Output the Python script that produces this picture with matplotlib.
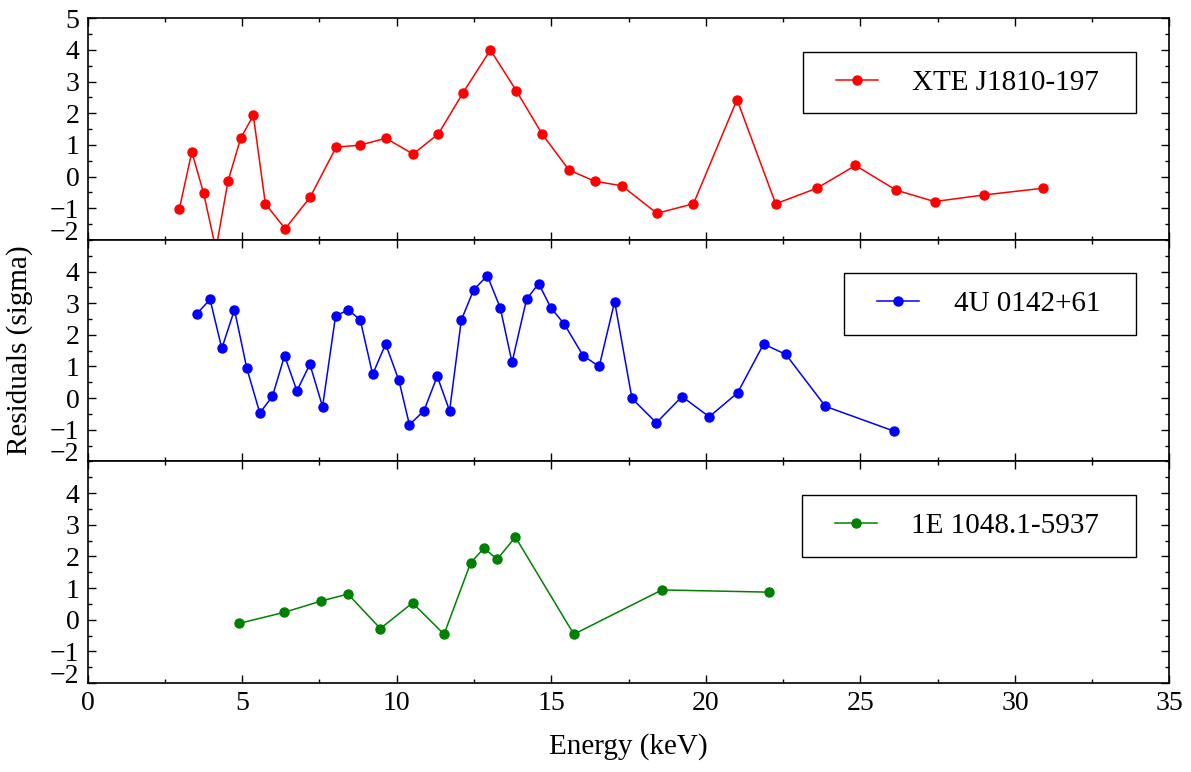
import matplotlib
matplotlib.use("Agg")
import matplotlib.pyplot as plt
from matplotlib.ticker import MultipleLocator
from matplotlib.legend_handler import HandlerLine2D

# Residuals of the spectral fit for three magnetars
xte_name = "XTE J1810-197"
xte_energy = [2.97, 3.37, 3.75, 4.15, 4.54, 4.95, 5.36, 5.75, 6.39, 7.20, 8.04,
              8.80, 9.65, 10.53, 11.35, 12.14, 13.03, 13.87, 14.70, 15.57, 16.41,
              17.28, 18.42, 19.60, 21.01, 22.26, 23.59, 24.84, 26.16, 27.40,
              29.01, 30.90]
xte_resid = [-1.01, 0.78, -0.52, -2.30, -0.15, 1.21, 1.93, -0.86, -1.65, -0.65, 0.93,
             0.99, 1.21, 0.71, 1.35, 2.64, 4.00, 2.71, 1.35, 0.21, -0.15,
             -0.29, -1.16, -0.86, 2.43, -0.86, -0.37, 0.35, -0.43, -0.79,
             -0.58, -0.37]

u0142_name = "4U 0142+61"
u0142_energy = [3.53, 3.96, 4.34, 4.75, 5.15, 5.57, 5.98, 6.37, 6.77, 7.19, 7.60,
                8.02, 8.43, 8.82, 9.22, 9.64, 10.07, 10.41, 10.88, 11.31, 11.71,
                12.09, 12.49, 12.93, 13.35, 13.73, 14.20, 14.59, 14.99, 15.42,
                16.03, 16.55, 17.05, 17.61, 18.40, 19.23, 20.11, 21.03, 21.87,
                22.59, 23.87, 26.08]
u0142_resid = [2.66, 3.12, 1.57, 2.79, 0.94, -0.47, 0.06, 1.34, 0.23, 1.07, -0.27,
               2.59, 2.79, 2.47, 0.75, 1.71, 0.56, -0.84, -0.40, 0.69, -0.40,
               2.47, 3.42, 3.87, 2.85, 1.13, 3.12, 3.62, 2.85, 2.34,
               1.34, 1.00, 3.05, -0.01, -0.78, 0.05, -0.59, 0.17, 1.71,
               1.38, -0.26, -1.04]

e1048_name = "1E 1048.1-5937"
e1048_energy = [4.89, 6.35, 7.56, 8.42, 9.47, 10.51, 11.53, 12.39, 12.82, 13.25,
                13.84, 15.73, 18.58, 22.05]
e1048_resid = [-0.12, 0.23, 0.59, 0.81, -0.28, 0.53, -0.46, 1.79, 2.26, 1.91,
               2.61, -0.46, 0.94, 0.87]

x_ticks = [0, 5, 10, 15, 20, 25, 30, 35]
y_ticks_top = [-2, -1, 0, 1, 2, 3, 4, 5]
y_ticks_lower = [-2, -1, 0, 1, 2, 3, 4]


class InsetLineHandler(HandlerLine2D):
    """Legend line handle that starts a fixed distance into its box."""

    def __init__(self, inset, **kw):
        super().__init__(**kw)
        self.inset = inset

    def create_artists(self, legend, orig_handle, xdescent, ydescent,
                       width, height, fontsize, trans):
        off = self.inset * fontsize
        return super().create_artists(legend, orig_handle, xdescent - off,
                                      ydescent, width - off, height,
                                      fontsize, trans)


plt.rcParams['font.family'] = ['Liberation Serif', 'DejaVu Serif']
plt.rcParams['axes.unicode_minus'] = True

fig, axes = plt.subplots(3, 1, sharex=True, figsize=(11.91, 7.72), dpi=100)
fig.subplots_adjust(left=0.0736, right=0.9819, top=0.9763, bottom=0.1153,
                    hspace=0)

panels = [
    (xte_energy, xte_resid, xte_name, '#ff0000', y_ticks_top, 0.6613, 0.3079, 0.8487),
    (u0142_energy, u0142_resid, u0142_name, '#0000ff', y_ticks_lower, 0.6996, 0.2699, 0.8493),
    (e1048_energy, e1048_resid, e1048_name, '#008000', y_ticks_lower, 0.6600, 0.3088, 0.8464),
]

for ax, (xe, yr, name, color, yt, lx, lw, ltop) in zip(axes, panels):
    line, = ax.plot(xe, yr, '-o', color=color, lw=1.1, ms=6.5,
                    mec=color, label=name)
    ax.set_xlim(0, 35)
    ax.set_ylim(-2, 5)
    ax.set_xticks(x_ticks)
    ax.set_yticks(yt)
    ax.xaxis.set_minor_locator(MultipleLocator(2.5))
    ax.yaxis.set_minor_locator(MultipleLocator(0.5))
    ax.tick_params(which='both', direction='in', top=True, right=True,
                   labelsize=20, width=1.0, pad=6)
    ax.tick_params(which='major', length=6)
    ax.tick_params(which='minor', length=3)
    for sp in ax.spines.values():
        sp.set_linewidth(1.2)
    # lowest label sits on its baseline so it clears the panel below
    ax.yaxis.get_major_ticks()[0].label1.set_verticalalignment('baseline')

    lh = 0.303
    leg = ax.legend(handles=[line], loc='upper left',
                    bbox_to_anchor=(lx, ltop - lh, lw, lh),
                    bbox_transform=ax.transAxes, mode='expand',
                    borderaxespad=0, borderpad=0.6, numpoints=1,
                    handlelength=1.97, handletextpad=1.17,
                    fontsize=21, fancybox=False, framealpha=1,
                    edgecolor='black',
                    handler_map={line: InsetLineHandler(0.53)})
    leg.get_frame().set_linewidth(1.0)

axes[-1].set_xlabel('Energy (keV)', fontsize=21)
axes[-1].xaxis.set_label_coords(0.5, -0.225)
axes[1].set_ylabel('Residuals (sigma)', fontsize=21)
axes[1].yaxis.set_label_coords(-0.0506, 0.5)

fig.savefig('out.png', dpi=100)
